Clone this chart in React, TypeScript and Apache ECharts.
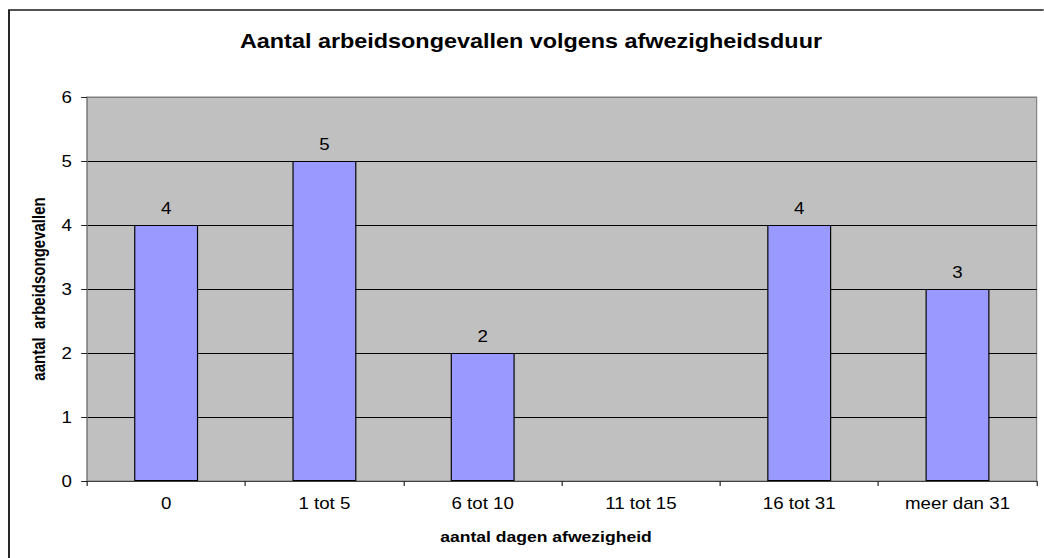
import React, { useEffect, useRef } from "react";
import * as echarts from "echarts";

const categories: string[] = ["0", "1 tot 5", "6 tot 10", "11 tot 15", "16 tot 31", "meer dan 31"];
const values: number[] = [4, 5, 2, 0, 4, 3];
const yTicks = { min: 0, max: 6, interval: 1 };
const titleText = "Aantal arbeidsongevallen volgens afwezigheidsduur";
const xName = "aantal dagen afwezigheid";
const yName = "aantal  arbeidsongevallen";

const SX = 1.17;
const W = 1044 / SX;
const H = 558;
const FONT = "'Liberation Sans', Arial, Helvetica, sans-serif";
const u = (x: number) => x / SX;

export default function App() {
  const ref = useRef<HTMLDivElement>(null);
  useEffect(() => {
    if (!ref.current) return;
    const chart = echarts.init(ref.current, null, { renderer: "svg" });
    chart.setOption({
      animation: false,
      backgroundColor: "#ffffff",
      textStyle: { fontFamily: FONT },
      grid: {
        left: u(87),
        right: W - u(1037),
        top: 97,
        bottom: H - 481,
        show: true,
        backgroundColor: "#C0C0C0",
        borderColor: "#808080",
        borderWidth: 1,
      },
      graphic: [
        {
          type: "rect",
          shape: { x: u(9), y: 10, width: W + 20, height: H + 20 },
          style: { fill: "none", stroke: "#1a1a1a", lineWidth: 1.6 },
          silent: true,
          z: 100,
        },
        {
          type: "text",
          x: u(531),
          y: 41,
          style: {
            text: titleText,
            fontFamily: FONT,
            fontSize: 20,
            fontWeight: "bold",
            fill: "#000",
            align: "center",
            verticalAlign: "middle",
          },
        },
        {
          type: "text",
          x: u(546),
          y: 536,
          style: {
            text: xName,
            fontFamily: FONT,
            fontSize: 15,
            fontWeight: "bold",
            fill: "#000",
            align: "center",
            verticalAlign: "middle",
          },
        },
      ],
      xAxis: {
        type: "category",
        data: categories,
        axisLine: { show: true, lineStyle: { color: "#404040", width: 1 } },
        axisTick: { show: true, length: 5, lineStyle: { color: "#202020" } },
        axisLabel: { color: "#000", fontSize: 16, fontFamily: FONT, margin: 14, interval: 0 },
        splitLine: { show: false },
      },
      yAxis: {
        type: "value",
        min: yTicks.min,
        max: yTicks.max,
        interval: yTicks.interval,
        name: yName,
        nameLocation: "middle",
        nameGap: 34,
        nameTextStyle: { color: "#000", fontSize: 15, fontWeight: "bold", fontFamily: FONT },
        axisLine: { show: true, lineStyle: { color: "#808080", width: 1 } },
        axisTick: { show: true, length: 5, lineStyle: { color: "#202020" } },
        axisLabel: { color: "#000", fontSize: 16, fontFamily: FONT, margin: 13 },
        splitLine: {
          show: true,
          lineStyle: {
            color: ["#404040", "#000", "#000", "#000", "#000", "#000", "#808080"],
            width: 1,
          },
        },
      },
      series: [
        {
          type: "bar",
          data: values.map((v) => (v === 0 ? { value: v, itemStyle: { borderWidth: 0 } } : v)),
          barWidth: "40.4%",
          itemStyle: { color: "#9999FF", borderColor: "#000", borderWidth: 1 },
          label: {
            show: true,
            position: "top",
            distance: 9,
            color: "#000",
            fontSize: 16,
            fontFamily: FONT,
            formatter: (p: any) => (p.value === 0 ? "" : String(p.value)),
          },
        },
      ],
    });
    return () => chart.dispose();
  }, []);
  return (
    <div
      ref={ref}
      style={{
        position: "absolute",
        left: 0,
        top: 0,
        width: W,
        height: H,
        transform: `scaleX(${SX})`,
        transformOrigin: "0 0",
      }}
    />
  );
}
